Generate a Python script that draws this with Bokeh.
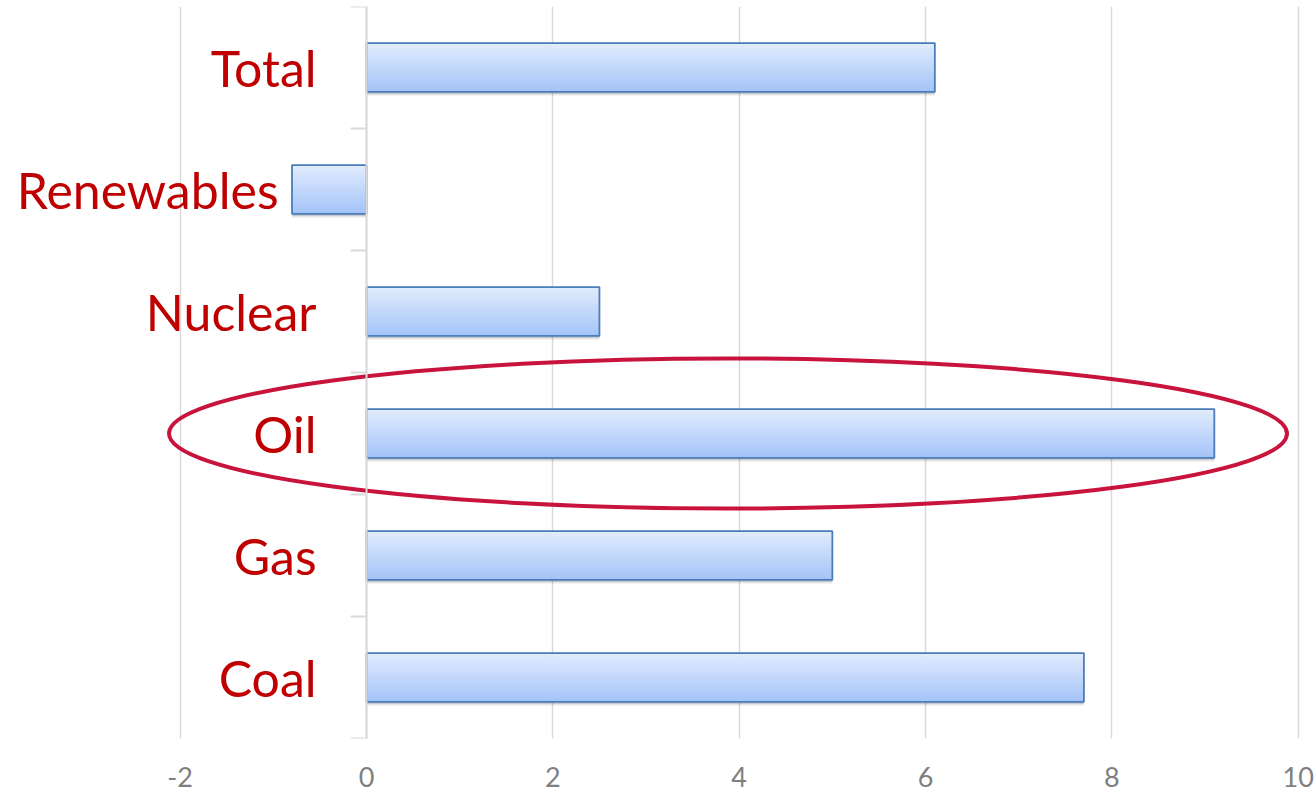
from bokeh.plotting import figure
from bokeh.models import ColumnDataSource, FactorRange, Range1d, FixedTicker, Span
from bokeh.transform import dodge
from bokeh.core.properties import value as pvalue
from bokeh.embed import file_html
from bokeh.resources import INLINE

# ---- data ----
categories = ["Coal", "Gas", "Oil", "Nuclear", "Renewables", "Total"]  # bottom -> top
values = [7.7, 5.0, 9.1, 2.5, -0.8, 6.1]
x_ticks = [-2, 0, 2, 4, 6, 8, 10]
x_tick_labels = ["-2", "0", "2", "4", "6", "8", "10"]
highlight = "Oil"

# ---- style ----
FONT = "Lato"
LABEL_RED = "#C00000"
TICK_GRAY = "#7F7F7F"
GRID = "#D9D9D9"
BAR_TOP = (0xE0, 0xEB, 0xFD)
BAR_BOT = (0xA5, 0xC5, 0xF8)
BAR_EDGE = "#4A7DBA"
ELLIPSE = "#C8143C"
BAR_H = 0.4
N_STRIPS = 18
LABEL_GAP = -50        # px from the zero axis for labels of positive bars
LABEL_GAP_NEG = -88    # px for labels of negative bars

src = ColumnDataSource(dict(cat=categories, value=values))

p = figure(width=1316, height=792,
           y_range=FactorRange(factors=categories),
           x_range=Range1d(-3.8, 10.1),
           output_backend="svg", toolbar_location=None,
           y_axis_location=None,
           min_border_left=12, min_border_right=9,
           min_border_top=6, min_border_bottom=54)
p.outline_line_color = None
p.background_fill_color = "white"
p.border_fill_color = "white"

# x axis
p.xaxis.ticker = FixedTicker(ticks=x_ticks)
p.xaxis.major_label_overrides = {t: s for t, s in zip(x_ticks, x_tick_labels)}
p.xaxis.axis_line_color = None
p.xaxis.major_tick_line_color = None
p.xaxis.minor_tick_line_color = None
p.xaxis.major_label_text_font = FONT
p.xaxis.major_label_text_font_size = "27px"
p.xaxis.major_label_text_color = TICK_GRAY
p.xaxis.major_label_standoff = 22

p.xgrid.ticker = FixedTicker(ticks=x_ticks)
p.xgrid.grid_line_color = GRID
p.xgrid.grid_line_width = 1.5
p.ygrid.grid_line_color = None

# category axis line at x = 0
p.add_layout(Span(location=0, dimension="height", line_color=GRID, line_width=2))

# boundary tick marks (between categories)
bsrc = ColumnDataSource(dict(cat=categories))
p.segment(x0=-0.17, x1=0, y0=dodge("cat", -0.5, range=p.y_range),
          y1=dodge("cat", -0.5, range=p.y_range), source=bsrc,
          line_color=GRID, line_width=2)
p.segment(x0=-0.17, x1=0, y0=dodge("cat", 0.5, range=p.y_range),
          y1=dodge("cat", 0.5, range=p.y_range),
          source=ColumnDataSource(dict(cat=[categories[-1]])),
          line_color=GRID, line_width=2)

# category labels
lsrc = ColumnDataSource(dict(cat=categories,
                             off=[LABEL_GAP if v >= 0 else LABEL_GAP_NEG for v in values]))
p.text(x=0, y="cat", text="cat", x_offset="off", source=lsrc,
       text_align="right", text_baseline="middle",
       text_font=pvalue(FONT), text_font_size="50px", text_color=LABEL_RED)

# shadows
for off, a in [(-0.03, 0.10), (-0.018, 0.12)]:
    p.hbar(y=dodge("cat", off, range=p.y_range), left=0, right="value",
           height=BAR_H, source=src, fill_color="black", fill_alpha=a,
           line_color=None)

# gradient bars built from strips
h = BAR_H / N_STRIPS
for i in range(N_STRIPS):
    t = i / (N_STRIPS - 1)
    r, g, b = (round(BAR_TOP[k] + (BAR_BOT[k] - BAR_TOP[k]) * t) for k in range(3))
    off = BAR_H / 2 - (i + 0.5) * h
    p.hbar(y=dodge("cat", off, range=p.y_range), left=0, right="value",
           height=h * 1.2, source=src,
           fill_color="#%02x%02x%02x" % (r, g, b), line_color=None)

# bar outline
p.hbar(y="cat", left=0, right="value", height=BAR_H, source=src,
       fill_color=None, line_color=BAR_EDGE, line_width=1.8)

# highlight ellipse around the Oil row
ell_left, ell_right, ell_height = -2.12, 9.88, 1.23
p.ellipse(x=[(ell_left + ell_right) / 2], y=[highlight],
          width=ell_right - ell_left, height=ell_height,
          fill_color=None, line_color=ELLIPSE, line_width=4)

open("out.html", "w").write(file_html(p, INLINE))
